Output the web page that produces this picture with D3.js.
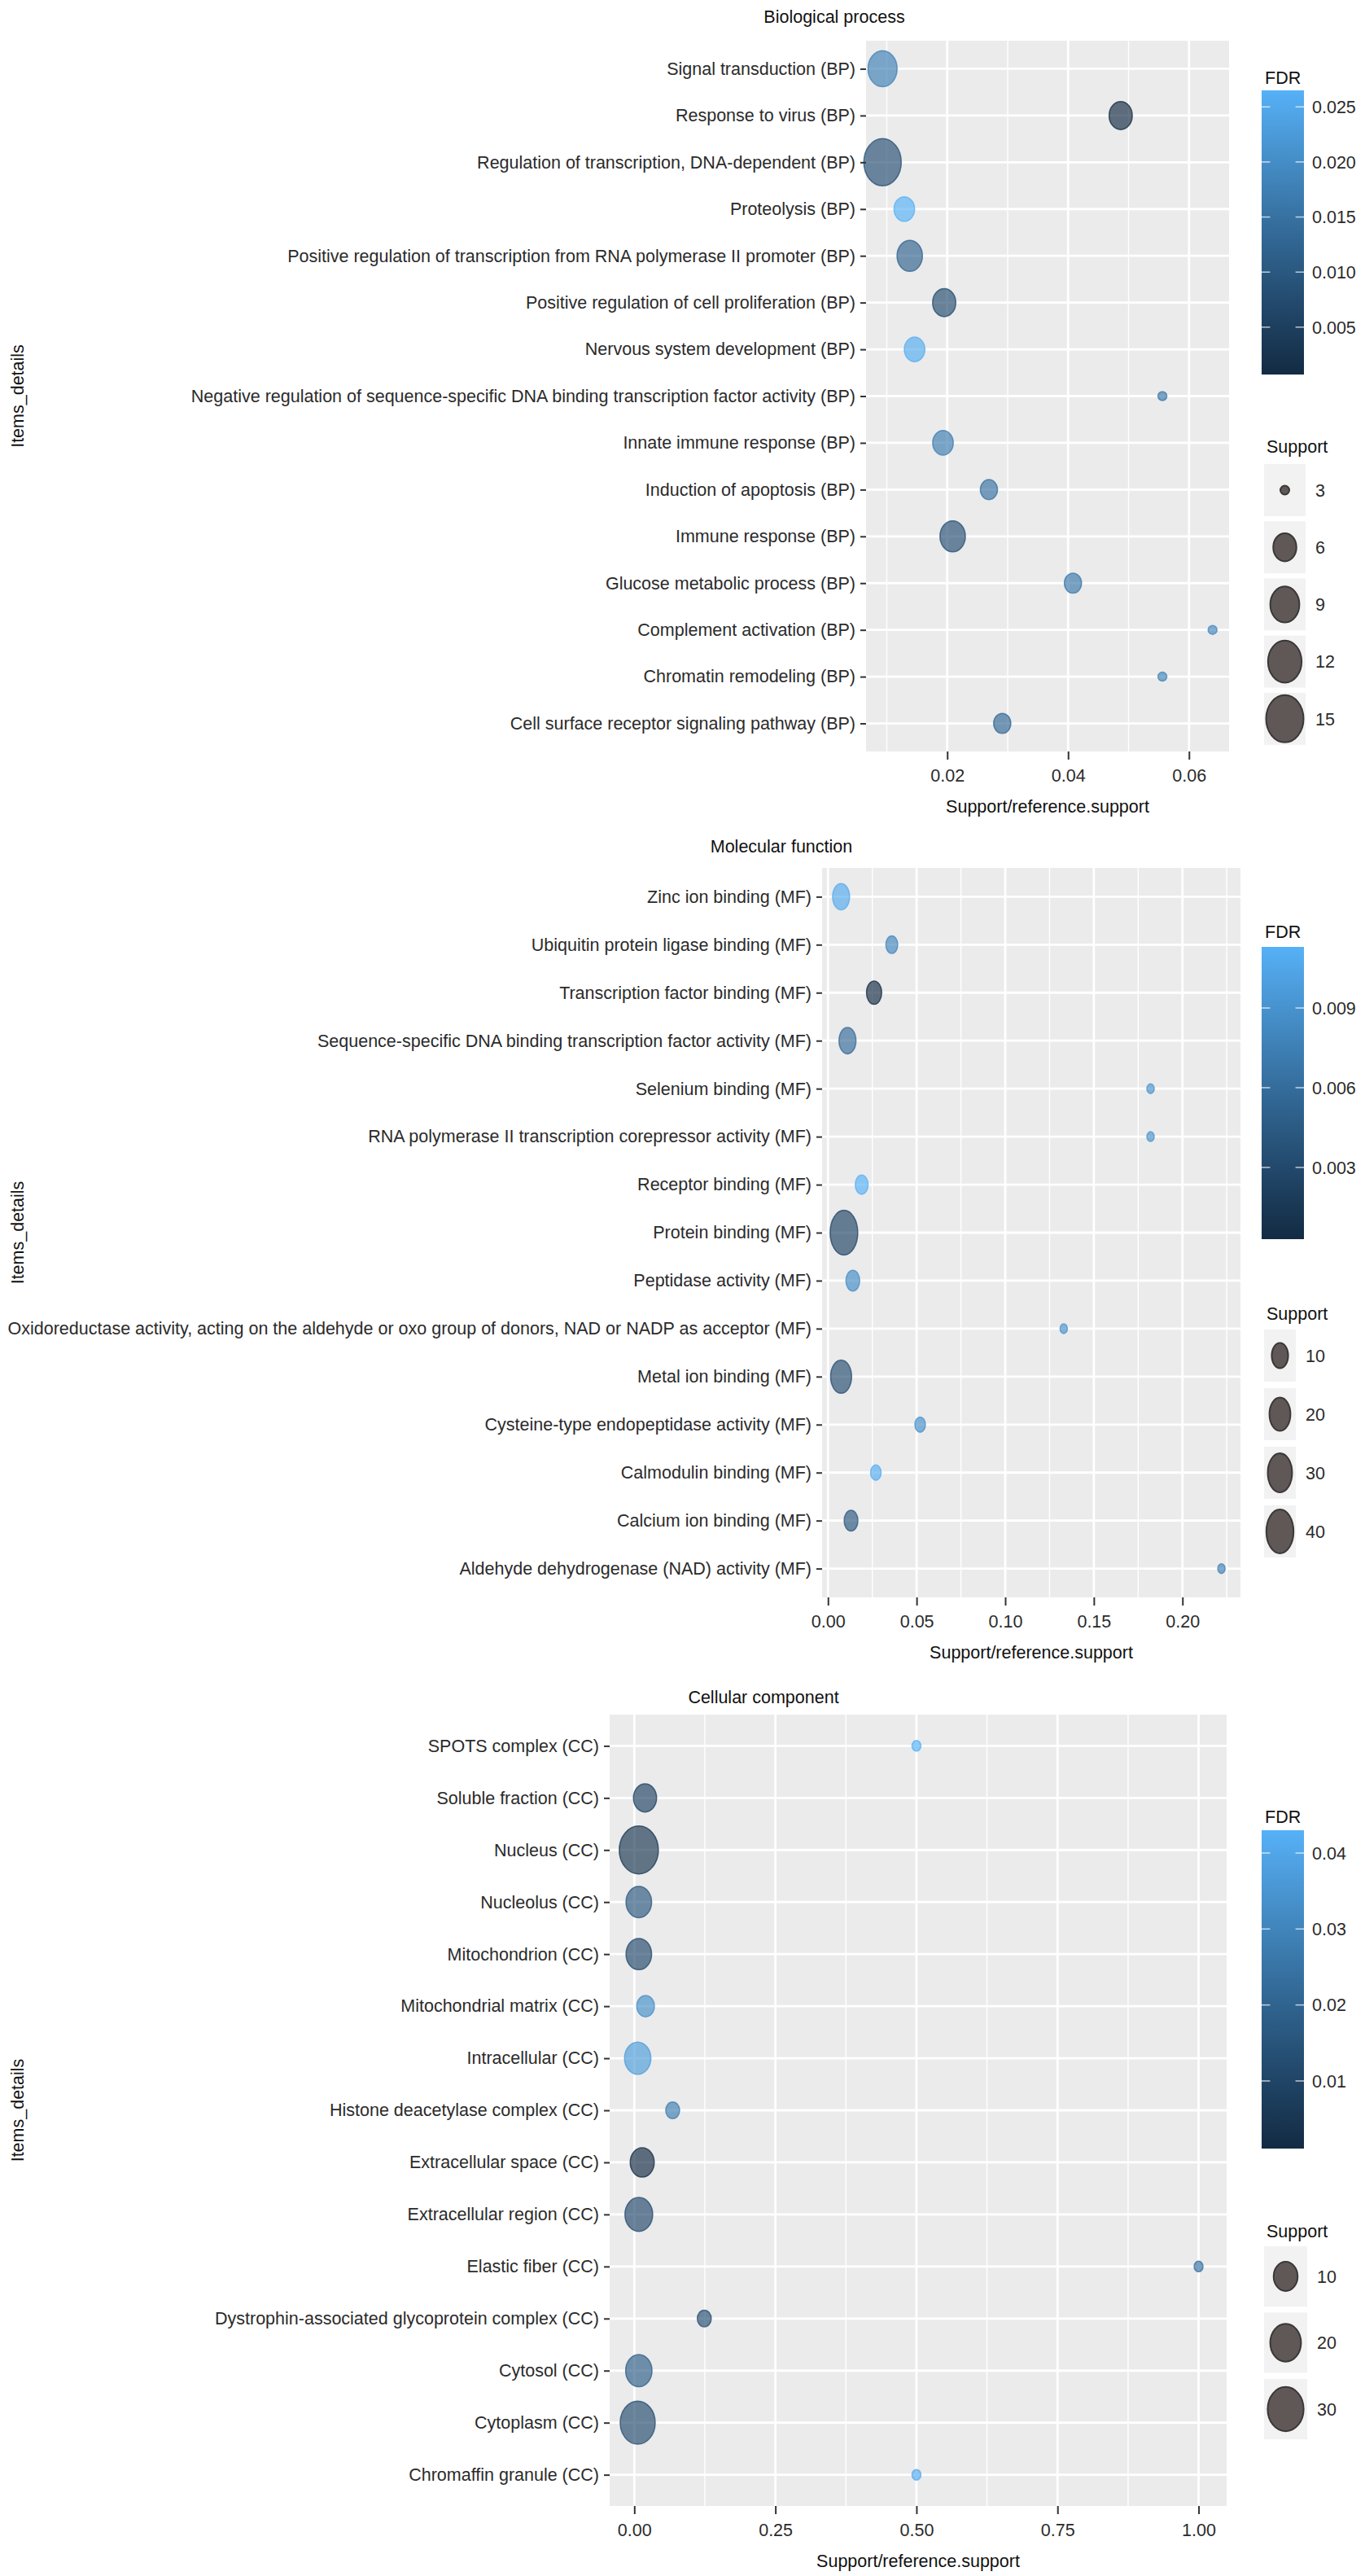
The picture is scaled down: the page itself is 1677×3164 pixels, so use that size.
<!DOCTYPE html>
<html>
<head>
<meta charset="utf-8">
<script src="https://cdn.jsdelivr.net/npm/d3@7"></script>
<style>
body{margin:0;background:#fff}
svg text{font-family:"Liberation Sans",Arial,Helvetica,sans-serif}
</style>
</head>
<body>
<svg id="chart" width="1677" height="3164"></svg>
<script>
// ---- Biological process (rows listed top to bottom)
const bpTerms = ["Signal transduction (BP)","Response to virus (BP)","Regulation of transcription, DNA-dependent (BP)","Proteolysis (BP)","Positive regulation of transcription from RNA polymerase II promoter (BP)","Positive regulation of cell proliferation (BP)","Nervous system development (BP)","Negative regulation of sequence-specific DNA binding transcription factor activity (BP)","Innate immune response (BP)","Induction of apoptosis (BP)","Immune response (BP)","Glucose metabolic process (BP)","Complement activation (BP)","Chromatin remodeling (BP)","Cell surface receptor signaling pathway (BP)"];
const bpRatio   = [0.0093,0.0487,0.0093,0.0129,0.0138,0.0195,0.0146,0.0556,0.0193,0.0269,0.0209,0.0408,0.0639,0.0556,0.0291];
const bpSupport = [9,6,15,5,7,6,5,3,5,4,7,4,3,3,4];
const bpFDR     = [0.0175,0.0007,0.008,0.0265,0.012,0.0075,0.0258,0.016,0.017,0.015,0.008,0.016,0.019,0.018,0.013];
const bpXTicks  = [0.02,0.04,0.06];
const bpFdrTicks = [0.005,0.010,0.015,0.020,0.025];
const bpSizeBreaks = [3,6,9,12,15];

// ---- Molecular function
const mfTerms = ["Zinc ion binding (MF)","Ubiquitin protein ligase binding (MF)","Transcription factor binding (MF)","Sequence-specific DNA binding transcription factor activity (MF)","Selenium binding (MF)","RNA polymerase II transcription corepressor activity (MF)","Receptor binding (MF)","Protein binding (MF)","Peptidase activity (MF)","Oxidoreductase activity, acting on the aldehyde or oxo group of donors, NAD or NADP as acceptor (MF)","Metal ion binding (MF)","Cysteine-type endopeptidase activity (MF)","Calmodulin binding (MF)","Calcium ion binding (MF)","Aldehyde dehydrogenase (NAD) activity (MF)"];
const mfRatio   = [0.0074,0.036,0.026,0.011,0.182,0.182,0.019,0.009,0.014,0.133,0.0074,0.052,0.027,0.013,0.222];
const mfSupport = [11,4,8,11,2,2,5,42,6,2,20,3,3,6,2];
const mfFDR     = [0.0108,0.008,0.0003,0.0058,0.009,0.009,0.0113,0.0025,0.0085,0.009,0.0033,0.0088,0.011,0.0042,0.0075];
const mfXTicks  = [0,0.05,0.10,0.15,0.20];
const mfFdrTicks = [0.003,0.006,0.009];
const mfSizeBreaks = [10,20,30,40];

// ---- Cellular component
const ccTerms = ["SPOTS complex (CC)","Soluble fraction (CC)","Nucleus (CC)","Nucleolus (CC)","Mitochondrion (CC)","Mitochondrial matrix (CC)","Intracellular (CC)","Histone deacetylase complex (CC)","Extracellular space (CC)","Extracellular region (CC)","Elastic fiber (CC)","Dystrophin-associated glycoprotein complex (CC)","Cytosol (CC)","Cytoplasm (CC)","Chromaffin granule (CC)"];
const ccRatio   = [0.5,0.019,0.008,0.008,0.008,0.02,0.006,0.068,0.014,0.008,1.0,0.124,0.008,0.006,0.5];
const ccSupport = [1,9,37,12,12,4,13,2,10,15,1,2,13,28,1];
const ccFDR     = [0.043,0.009,0.005,0.016,0.011,0.033,0.037,0.028,0.0011,0.011,0.024,0.013,0.018,0.012,0.041];
const ccXTicks  = [0,0.25,0.50,0.75,1.00];
const ccFdrTicks = [0.01,0.02,0.03,0.04];
const ccSizeBreaks = [10,20,30];

const svg = d3.select("#chart");
const FS = 21.5;
const defs = svg.append("defs");

const panels = [
  {id:"bp", title:"Biological process", terms:bpTerms, ratio:bpRatio, support:bpSupport, fdr:bpFDR,
   xTicks:bpXTicks, xFmt:".2f", fdrTicks:bpFdrTicks, fdrFmt:".3f", sizeBreaks:bpSizeBreaks,
   titleX:1025, titleY:20, box:{x0:1064,x1:1510,y0:50,y1:923},
   fdrTitleY:95, bar:{y0:111,y1:460}, supTitleY:548, keyY0:602, keyStep:70.2, keyH:64,
   wRange:[11,46], hRange:[11,58]},
  {id:"mf", title:"Molecular function", terms:mfTerms, ratio:mfRatio, support:mfSupport, fdr:mfFDR,
   xTicks:mfXTicks, xFmt:".2f", fdrTicks:mfFdrTicks, fdrFmt:".3f", sizeBreaks:mfSizeBreaks,
   titleX:960, titleY:1039, box:{x0:1010,x1:1524,y0:1066,y1:1962},
   fdrTitleY:1144, bar:{y0:1163,y1:1522}, supTitleY:1613, keyY0:1665, keyStep:72, keyH:64,
   wRange:[9,34], hRange:[12,55]},
  {id:"cc", title:"Cellular component", terms:ccTerms, ratio:ccRatio, support:ccSupport, fdr:ccFDR,
   xTicks:ccXTicks, xFmt:".2f", fdrTicks:ccFdrTicks, fdrFmt:".2f", sizeBreaks:ccSizeBreaks,
   titleX:938, titleY:2084, box:{x0:749,x1:1507,y0:2106,y1:3078},
   fdrTitleY:2231, bar:{y0:2248,y1:2639}, supTitleY:2740, keyY0:2796, keyStep:81.5, keyH:74,
   wRange:[11,48], hRange:[13,59]}
];

panels.forEach(drawPanel);

function drawPanel(p){
  const g = svg.append("g");
  const b = p.box;
  const rows = p.terms.map((t,i)=>({term:t, ratio:p.ratio[i], support:p.support[i], fdr:p.fdr[i]}));

  // ggplot-like 5% expansion of the continuous axis
  const [xmin,xmax] = d3.extent(p.ratio);
  const pad = (xmax-xmin)*0.05;
  const x = d3.scaleLinear().domain([xmin-pad, xmax+pad]).range([b.x0,b.x1]);
  const y = d3.scalePoint().domain(p.terms).range([b.y0,b.y1]).padding(0.6);
  const fdrExt = d3.extent(p.fdr);
  const color = d3.scaleLinear().domain(fdrExt).range(["#132B43","#56B1F7"]).interpolate(d3.interpolateLab);
  const [smin,smax] = d3.extent(p.support);
  const wS = d3.scaleSqrt().domain([0,smax-smin]).range(p.wRange);
  const hS = d3.scaleSqrt().domain([0,smax-smin]).range(p.hRange);

  // panel
  g.append("rect").attr("x",b.x0).attr("y",b.y0).attr("width",b.x1-b.x0).attr("height",b.y1-b.y0).attr("fill","#EBEBEB");
  const step = p.xTicks[1]-p.xTicks[0];
  const minor = d3.range(p.xTicks[0]-step/2, p.xTicks[p.xTicks.length-1]+step, step).filter(v=>v>x.domain()[0] && v<x.domain()[1]);
  g.selectAll(".minor").data(minor).join("line").attr("class","minor")
    .attr("x1",d=>x(d)).attr("x2",d=>x(d)).attr("y1",b.y0).attr("y2",b.y1)
    .attr("stroke","#fff").attr("stroke-width",1.4);
  g.selectAll(".majx").data(p.xTicks).join("line").attr("class","majx")
    .attr("x1",d=>x(d)).attr("x2",d=>x(d)).attr("y1",b.y0).attr("y2",b.y1)
    .attr("stroke","#fff").attr("stroke-width",2.8);
  g.selectAll(".majy").data(p.terms).join("line").attr("class","majy")
    .attr("x1",b.x0).attr("x2",b.x1).attr("y1",d=>y(d)).attr("y2",d=>y(d))
    .attr("stroke","#fff").attr("stroke-width",2.8);

  // points
  g.selectAll(".pt").data(rows).join("ellipse").attr("class","pt")
    .attr("cx",d=>x(d.ratio)).attr("cy",d=>y(d.term))
    .attr("rx",d=>wS(d.support-smin)/2).attr("ry",d=>hS(d.support-smin)/2)
    .attr("fill",d=>color(d.fdr)).attr("fill-opacity",0.66)
    .attr("stroke",d=>color(d.fdr)).attr("stroke-opacity",0.75).attr("stroke-width",1.5);

  // axes
  const ya = g.append("g").attr("transform",`translate(${b.x0},0)`)
    .call(d3.axisLeft(y).tickSize(7).tickPadding(6));
  ya.select(".domain").remove();
  ya.attr("font-size",FS).attr("font-family",null).attr("color","#333");
  ya.selectAll("line").attr("stroke-width",2);
  ya.selectAll("text").attr("fill","#2b2b2b");

  const xa = g.append("g").attr("transform",`translate(0,${b.y1})`)
    .call(d3.axisBottom(x).tickValues(p.xTicks).tickFormat(d3.format(p.xFmt)).tickSize(10).tickPadding(12));
  xa.select(".domain").remove();
  xa.attr("font-size",FS).attr("font-family",null).attr("color","#333");
  xa.selectAll("line").attr("stroke-width",2);
  xa.selectAll("text").attr("fill","#2b2b2b");

  // titles
  g.append("text").attr("x",p.titleX).attr("y",p.titleY).attr("dy","0.36em").attr("text-anchor","middle")
    .attr("font-size",FS).attr("fill","#111").text(p.title);
  g.append("text").attr("x",(b.x0+b.x1)/2).attr("y",b.y1+67).attr("dy","0.36em").attr("text-anchor","middle")
    .attr("font-size",FS).attr("fill","#111").text("Support/reference.support");
  g.append("text").attr("transform",`translate(21,${(b.y0+b.y1)/2}) rotate(-90)`).attr("dy","0.36em")
    .attr("text-anchor","middle").attr("font-size",FS).attr("fill","#111").text("Items_details");

  // FDR colour bar
  const barX = 1550, barW = 52;
  const grad = defs.append("linearGradient").attr("id","grad-"+p.id).attr("x1",0).attr("y1",1).attr("x2",0).attr("y2",0);
  d3.range(0,1.0001,0.1).forEach(t=>{
    grad.append("stop").attr("offset",t).attr("stop-color",color(fdrExt[0]+t*(fdrExt[1]-fdrExt[0])));
  });
  const cy = d3.scaleLinear().domain(fdrExt).range([p.bar.y1,p.bar.y0]);
  g.append("text").attr("x",barX+4).attr("y",p.fdrTitleY).attr("dy","0.36em").attr("font-size",FS).attr("fill","#111").text("FDR");
  g.append("rect").attr("x",barX).attr("y",p.bar.y0).attr("width",barW).attr("height",p.bar.y1-p.bar.y0).attr("fill",`url(#grad-${p.id})`);
  const ct = g.selectAll(".cbt").data(p.fdrTicks).join("g").attr("class","cbt").attr("transform",d=>`translate(0,${cy(d)})`);
  ct.append("line").attr("x1",barX).attr("x2",barX+barW/5).attr("stroke","#fff").attr("stroke-opacity",0.7).attr("stroke-width",1.5);
  ct.append("line").attr("x1",barX+barW*4/5).attr("x2",barX+barW).attr("stroke","#fff").attr("stroke-opacity",0.7).attr("stroke-width",1.5);
  ct.append("text").attr("x",barX+barW+10).attr("dy","0.36em").attr("font-size",FS).attr("fill","#2b2b2b").text(d3.format(p.fdrFmt));

  // Support size legend
  const keyW = p.wRange[1]+5;
  g.append("text").attr("x",barX+6).attr("y",p.supTitleY).attr("dy","0.36em").attr("font-size",FS).attr("fill","#111").text("Support");
  const kg = g.selectAll(".key").data(p.sizeBreaks).join("g").attr("class","key")
    .attr("transform",(d,i)=>`translate(${barX+3},${p.keyY0+i*p.keyStep})`);
  kg.append("rect").attr("x",0).attr("y",-p.keyH/2).attr("width",keyW).attr("height",p.keyH).attr("fill","#F2F2F2");
  kg.append("ellipse").attr("cx",keyW/2).attr("cy",0)
    .attr("rx",d=>wS(d-smin)/2).attr("ry",d=>hS(d-smin)/2)
    .attr("fill","#5f5856").attr("stroke","#3b3838").attr("stroke-width",2);
  kg.append("text").attr("x",keyW+12).attr("dy","0.36em").attr("font-size",FS).attr("fill","#2b2b2b").text(d=>d);
}
</script>
</body>
</html>
